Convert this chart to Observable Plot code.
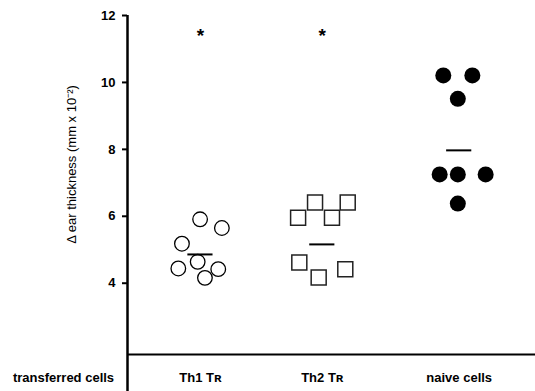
<!DOCTYPE html>
<html>
<head>
<meta charset="utf-8">
<script src="https://cdn.jsdelivr.net/npm/d3@7"></script>
<script src="https://cdn.jsdelivr.net/npm/@observablehq/plot@0.6"></script>
<style>
  html, body { margin: 0; padding: 0; background: white; }
  svg { display: block; }
</style>
</head>
<body>
<div id="chart"></div>
<script>
// ---- data ----
const groups = ["Th1 Tʀ", "Th2 Tʀ", "naive cells"];
const th1Values = [5.91, 5.65, 5.18, 4.64, 4.44, 4.42, 4.16];
const th1Jitter = [-0.02, 0.16, -0.17, -0.04, -0.20, 0.13, 0.02];
const th2Values = [6.41, 6.41, 5.96, 5.96, 4.62, 4.42, 4.17];
const th2Jitter = [-0.07, 0.20, -0.21, 0.07, -0.20, 0.18, -0.04];
const naiveValues = [10.21, 10.21, 9.51, 7.25, 7.25, 7.25, 6.38];
const naiveJitter = [-0.01, 0.23, 0.11, -0.04, 0.11, 0.34, 0.11];
const groupMeans = [4.86, 5.16, 7.97];
const significant = [true, true, false];
const starLevel = 11.55;
const yTicks = [4, 6, 8, 10, 12];
const yLabel = "Δ ear thickness (mm x 10⁻²)";
const rowLabel = "transferred cells";

// ---- build tables ----
const valueSets = [th1Values, th2Values, naiveValues];
const jitterSets = [th1Jitter, th2Jitter, naiveJitter];
const rows = valueSets.map((vals, g) =>
  vals.map((v, i) => ({group: groups[g], value: v, x: g + 1 + jitterSets[g][i]})));
const centers = rows.map(r => d3.mean(r, d => d.x));
const summary = groups.map((g, i) => ({group: g, center: centers[i], mean: groupMeans[i], sig: significant[i]}));

const yMin = 1.87, yMax = 12;
const xMin = 0.38, xMax = 3.752;
const font = "'Liberation Sans', Arial, Helvetica, sans-serif";

const chart = Plot.plot({
  width: 535,
  height: 391,
  marginLeft: 127,
  marginRight: 0,
  marginTop: 15,
  marginBottom: 37,
  x: {domain: [xMin, xMax], axis: null},
  y: {domain: [yMin, yMax], axis: null},
  style: {fontFamily: font, background: "white", color: "black"},
  marks: [
    Plot.axisY({ticks: yTicks, tickSize: 5, tickPadding: 7, strokeWidth: 2, fontSize: 13, fontWeight: "bold", label: null}),
    Plot.ruleX([xMin], {y1: yMax, y2: 0, strokeWidth: 2.5}),
    Plot.ruleY([yMin], {x1: xMin, x2: xMax, strokeWidth: 2}),
    Plot.dot(rows[0], {x: "x", y: "value", r: 7.3, stroke: "black", fill: "white", strokeWidth: 1.3}),
    Plot.dot(rows[1], {x: "x", y: "value", symbol: "square", r: 8.46, stroke: "#222", fill: "white", strokeWidth: 1.5}),
    Plot.dot(rows[2], {x: "x", y: "value", r: 8, fill: "black", stroke: "none"}),
    Plot.ruleY(summary, {y: "mean", x1: d => d.center - 0.104, x2: d => d.center + 0.104, strokeWidth: 2}),
    Plot.text(summary.filter(d => d.sig), {x: "center", y: () => starLevel, text: () => "*", fontSize: 19, fontWeight: "bold", dy: 5}),
    Plot.text(summary, {x: "center", frameAnchor: "bottom", text: "group", dy: 27, fontSize: 13, fontWeight: "bold"}),
    Plot.text([rowLabel], {frameAnchor: "bottom-left", textAnchor: "middle", text: d => d, dx: -64, dy: 27, fontSize: 13, fontWeight: "bold"}),
    Plot.text([yLabel], {frameAnchor: "left", textAnchor: "middle", text: d => d, rotate: -90, dx: -56, dy: -20.5, fontSize: 13})
  ]
});
document.getElementById("chart").append(chart);
</script>
</body>
</html>
